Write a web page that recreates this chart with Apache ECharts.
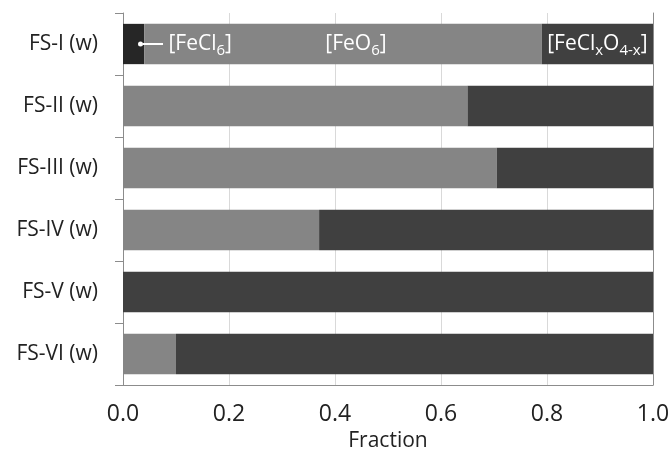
<!DOCTYPE html>
<html><head><meta charset="utf-8">
<script src="https://cdn.jsdelivr.net/npm/echarts@6/dist/echarts.min.js"></script>
<style>html,body{margin:0;padding:0;background:#fff}#c{width:668px;height:458px}</style>
</head><body><div id="c"></div>
<script>
const categories = ['FS-I (w)','FS-II (w)','FS-III (w)','FS-IV (w)','FS-V (w)','FS-VI (w)'];
const feCl6 = [0.04, 0, 0, 0, 0, 0];
const feO6 = [0.75, 0.65, 0.705, 0.37, 0, 0.10];
const feClxO4x = [0.21, 0.35, 0.295, 0.63, 1.0, 0.90];
const xTicks = [0, 0.2, 0.4, 0.6, 0.8, 1.0];

const FONT = 'Open Sans';
const sub = {fontSize: 15, color: '#fff', fontFamily: FONT, verticalAlign: 'bottom', lineHeight: 16, padding:[9,0,0,0]};
const main = {fontSize: 21, color: '#fff', fontFamily: FONT, lineHeight: 28};

function withLabel(arr, label) {
  return arr.map((v, i) => i === 0 ? {value: v, label: label} : v);
}

const chart = echarts.init(document.getElementById('c'));
chart.setOption({
  animation: false,
  grid: {left: 123, right: 15, top: 13, bottom: 73, outerBoundsMode: 'none', containLabel: false},
  xAxis: {
    type: 'value', min: 0, max: 1, interval: 0.2,
    axisLine: {show: true, lineStyle: {color: '#8c8c8c', width: 1}},
    axisTick: {show: false},
    splitLine: {show: true, lineStyle: {color: '#d9d9d9', width: 1}},
    axisLabel: {formatter: v => v.toFixed(1), fontSize: 23, color: '#222', fontFamily: FONT, margin: 18},
    name: 'Fraction', nameLocation: 'middle', nameGap: 45,
    nameTextStyle: {fontSize: 21, color: '#222', fontFamily: FONT}
  },
  yAxis: [{
    type: 'category', data: categories, inverse: true,
    axisLine: {show: true, lineStyle: {color: '#8c8c8c'}},
    axisTick: {show: true, length: 8, lineStyle: {color: '#8c8c8c'}},
    axisLabel: {fontSize: 21, color: '#222', fontFamily: FONT, margin: 25}
  }, {
    type: 'category', data: categories, inverse: true, position: 'right',
    axisLine: {show: true, lineStyle: {color: '#8c8c8c'}},
    axisTick: {show: false}, axisLabel: {show: false}
  }],
  series: [
    {name: 'FeCl6', type: 'bar', stack: 's', barCategoryGap: '35%',
     itemStyle: {color: '#262626'},
     data: withLabel(feCl6, {
       show: true, position: 'insideLeft', offset: [15, 0], distance: 0,
       formatter: '{dot|}{line|}{m| [FeCl}{s|6}{m|]}',
       rich: {
         dot: {width: 5, height: 5, borderRadius: 3, backgroundColor: '#fff'},
         line: {width: 20, height: 2, backgroundColor: '#fff'},
         m: main, s: sub
       }
     })},
    {name: 'FeO6', type: 'bar', stack: 's',
     itemStyle: {color: '#858585'},
     data: withLabel(feO6, {
       show: true, position: 'inside', offset: [13, 0],
       formatter: '{m|[FeO}{s|6}{m|]}', rich: {m: main, s: sub}
     })},
    {name: 'FeClxO4x', type: 'bar', stack: 's',
     itemStyle: {color: '#404040'},
     data: withLabel(feClxO4x, {
       show: true, position: 'inside', offset: [0, 0],
       formatter: '{m|[FeCl}{s|x}{m|O}{s|4-x}{m|]}', rich: {m: main, s: sub}
     })}
  ]
});
</script></body></html>
